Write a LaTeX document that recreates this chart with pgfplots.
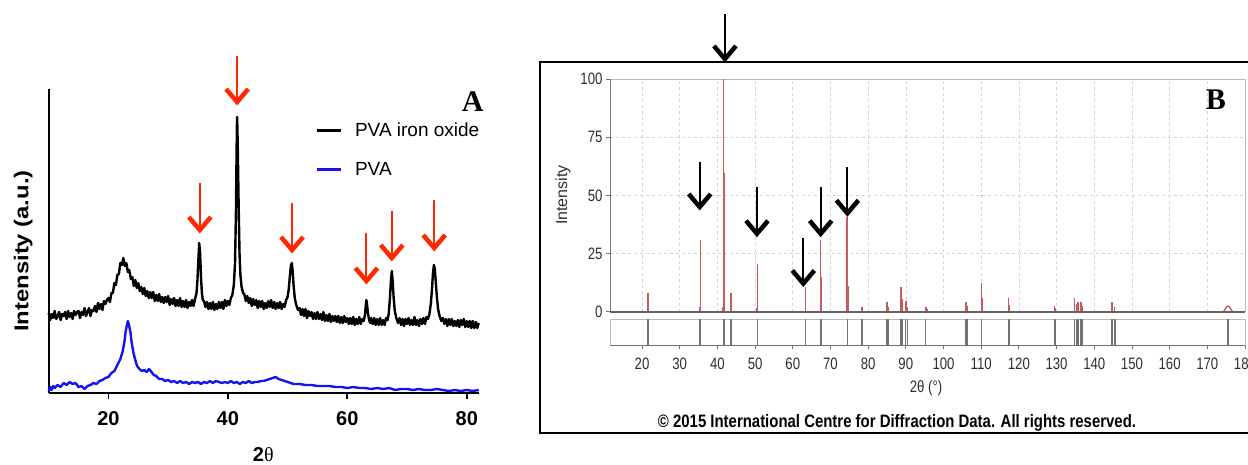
\documentclass[border=0pt]{standalone}
\usepackage{pgfplots}
\usepackage{pgfplotstable}
\pgfplotsset{compat=1.18}
\usepackage{fontspec}
\setmainfont{Liberation Sans}
\newfontfamily\narrow[FakeStretch=0.8]{Liberation Sans}
\newfontfamily\serif{Liberation Serif}
\definecolor{arrowred}{RGB}{255,40,0}
\definecolor{pvablue}{RGB}{20,20,240}
\definecolor{stick}{RGB}{200,90,90}
\definecolor{gridgray}{RGB}{210,210,210}
\definecolor{boxgray}{RGB}{185,185,185}
\definecolor{axgray}{RGB}{115,115,115}
\definecolor{txtgray}{RGB}{45,45,45}

\pgfplotstableread{
x y
10.00 80
10.25 73
10.50 79
10.75 75
11.00 82
11.25 74
11.50 77
11.75 81
12.00 73
12.25 79
12.50 77
12.75 81
13.00 74
13.25 82
13.50 76
13.75 80
14.00 74
14.25 82
14.50 78
14.75 81
15.00 82
15.25 75
15.50 81
15.75 78
16.00 85
16.25 77
16.50 81
16.75 85
17.00 77
17.25 83
17.50 82
17.75 87
18.00 81
18.25 90
18.50 84
18.75 89
19.00 83
19.25 92
19.50 89
19.75 93
20.00 95
20.25 91
20.50 100
20.75 100
21.00 110
21.25 108
21.50 118
21.75 119
22.00 130
22.25 128
22.50 135
22.75 127
23.00 130
23.25 121
23.50 123
23.75 114
24.00 116
24.25 107
24.50 113
24.75 105
25.00 110
25.25 102
25.50 106
25.75 99
26.00 105
26.25 97
26.50 102
26.75 95
27.00 101
27.25 95
27.50 101
27.75 92
28.00 98
28.25 92
28.50 99
28.75 91
29.00 96
29.25 90
29.50 96
29.75 91
30.00 97
30.25 88
30.50 94
30.75 89
31.00 95
31.25 87
31.50 93
31.75 87
32.00 95
32.25 86
32.50 92
32.75 86
33.00 93
33.25 85
33.50 91
33.75 87
34.00 93
34.25 87
34.50 94
34.75 100
34.90 112
35.05 132
35.20 150
35.35 140
35.50 116
35.65 100
35.80 93
36.00 92
36.25 86
36.50 91
36.75 84
37.00 90
37.25 84
37.50 91
37.75 83
38.00 89
38.25 84
38.50 91
38.75 85
39.00 91
39.25 84
39.50 93
39.75 87
40.00 92
40.25 88
40.50 95
40.75 98
41.00 108
41.20 130
41.35 180
41.50 262
41.55 276
41.65 250
41.80 190
41.95 140
42.10 118
42.30 106
42.55 100
42.75 99
43.00 92
43.25 97
43.50 90
43.75 95
44.00 87
44.25 94
44.50 88
44.75 93
45.00 85
45.25 92
45.50 86
45.75 92
46.00 84
46.25 90
46.50 85
46.75 92
47.00 86
47.25 93
47.50 85
47.75 91
48.00 84
48.25 90
48.50 85
48.75 91
49.00 84
49.25 89
49.50 86
49.75 93
50.00 96
50.20 104
50.40 118
50.55 127
50.70 130
50.85 122
51.00 108
51.20 95
51.45 88
51.75 83
52.00 85
52.25 78
52.50 84
52.75 77
53.00 84
53.25 75
53.50 82
53.75 77
54.00 81
54.25 74
54.50 80
54.75 74
55.00 81
55.25 74
55.50 79
55.75 73
56.00 81
56.25 72
56.50 78
56.75 72
57.00 79
57.25 71
57.50 77
57.75 72
58.00 77
58.25 71
58.50 77
58.75 70
59.00 76
59.25 70
59.50 77
59.75 71
60.00 75
60.25 69
60.50 75
60.75 69
61.00 76
61.25 68
61.50 74
61.75 69
62.00 76
62.25 69
62.50 74
62.75 72
62.95 78
63.10 88
63.20 93
63.30 89
63.45 80
63.65 73
63.85 70
64.00 75
64.25 69
64.50 75
64.75 68
65.00 74
65.25 68
65.50 75
65.75 68
66.00 73
66.25 68
66.50 75
66.75 73
66.95 80
67.15 96
67.30 112
67.45 122
67.60 112
67.75 96
67.95 82
68.20 75
68.50 70
68.75 75
69.00 68
69.25 74
69.50 67
69.75 74
70.00 69
70.25 75
70.50 68
70.75 73
71.00 68
71.25 76
71.50 68
71.75 73
72.00 67
72.25 74
72.50 69
72.75 75
73.00 69
73.25 76
73.50 74
73.75 79
74.00 90
74.20 106
74.35 120
74.50 128
74.65 124
74.80 112
75.00 96
75.20 84
75.45 77
75.75 72
76.00 75
76.25 69
76.50 74
76.75 67
77.00 74
77.25 68
77.50 74
77.75 67
78.00 72
78.25 67
78.50 73
78.75 66
79.00 73
79.25 68
79.50 74
79.75 66
80.00 72
80.25 66
80.50 72
80.75 65
81.00 72
81.25 65
81.50 71
81.75 65
82.00 70
}\ironoxide

\pgfplotstableread{
x y
10.0 2
10.25 6
10.5 3
10.75 7
11.0 5
11.5 8
12.0 6
12.5 10
13.0 8
13.5 11
14.0 9
14.5 10
15.0 6
15.5 7
16.0 4
16.5 7
17.0 8
17.5 10
18.0 9
18.5 12
19.0 13
19.5 15
20.0 16
20.5 20
21.0 22
21.5 28
22.0 34
22.4 42
22.7 52
22.9 62
23.1 68
23.25 72
23.45 68
23.7 60
23.9 50
24.2 40
24.5 33
24.8 27
25.2 24
25.6 22
26.0 23
26.4 21
26.8 24
27.2 21
27.6 18
28.0 17
28.5 14
29.0 14
29.5 12
30.0 13
30.5 11
31.0 12
31.5 10
32.0 12
32.5 10
33.0 11
33.5 9
34.0 11
34.5 10
35.0 11
35.5 9
36.0 11
36.5 10
37.0 12
37.5 10
38.0 12
38.5 11
39.0 10
39.5 11
40.0 10
40.5 12
41.0 10
41.5 11
42.0 9
42.5 11
43.0 10
43.5 12
44.0 10
44.5 11
45.0 11
45.5 12
46.0 12
46.5 13
47.0 14
47.5 15
48.0 16
48.5 14
49.0 13
49.5 12
50.0 11
50.5 10
51.0 9
52.0 9
53.0 8
54.0 8
55.0 7
56.0 7
57.0 7
58.0 6
59.0 6
60.0 5
61.0 6
62.0 5
63.0 5
64.0 4
65.0 5
66.0 4
67.0 5
68.0 3
69.0 4
70.0 4
71.0 3
72.0 4
73.0 3
74.0 3
75.0 4
76.0 3
77.0 2
78.0 3
79.0 2
80.0 3
81.0 2
82.0 3
}\pva

\pgfplotstableread{
x y
21.6 7.9
35.3 2
35.5 30.7
41.3 2
41.6 100
41.9 59.5
43.6 7.9
50.5 1.5
50.7 20.5
63.3 10.7
67.4 30.7
67.6 15
74.4 40.8
74.6 11
78.4 2.1
85.0 4
85.3 2
88.7 10.5
89.1 5.3
90.0 4.4
90.4 2
95.3 2.1
95.6 1.3
106.0 4
106.3 2.5
110.1 12.2
110.4 6
117.2 6
117.5 3
129.4 2.4
129.7 1.5
134.8 6
135.3 3.5
135.7 4
136.5 4
136.9 2.5
144.7 4
145.3 2
}\sticks

\pgfplotstableread{
x y
21.6 1
35.4 1
41.6 1
41.9 1
43.6 1
50.7 1
63.3 1
67.4 1
67.6 1
74.5 1
78.4 1
85.0 1
85.3 1
88.7 1
89.1 1
90.0 1
90.4 1
95.3 1
106.0 1
106.3 1
110.1 1
117.2 1
117.5 1
129.4 1
129.7 1
134.8 1
135.3 1
135.7 1
136.5 1
136.9 1
144.7 1
145.5 1
175.5 1
}\refl

\newcommand{\arrA}[3]{%
  \draw[arrowred, line width=2pt] (axis cs:#1,#2) -- (axis cs:#1,#3);
  \draw[arrowred, line width=4.5pt, line join=miter] (axis cs:{#1-1.85},{#3+13}) -- (axis cs:#1,#3) -- (axis cs:{#1+1.85},{#3+13});}
\newcommand{\arrB}[3]{%
  \draw[black, line width=2pt] (axis cs:#1,#2) -- (axis cs:#1,#3);
  \draw[black, line width=4.5pt, line join=miter] (axis cs:{#1-2.92},{#3+5.6}) -- (axis cs:#1,#3) -- (axis cs:{#1+2.92},{#3+5.6});}

\begin{document}
\begin{tikzpicture}[x=1pt,y=1pt]

% ---------------- Panel A ----------------
\begin{axis}[
  at={(48.7pt,71pt)}, anchor=south west, scale only axis,
  width=430pt, height=304pt,
  xmin=10, xmax=82, ymin=0, ymax=304,
  axis x line=bottom, axis y line=left,
  axis line style={-, line width=1.8pt, black},
  x axis line style={-}, y axis line style={-},
  xtick={20,40,60,80}, ytick=\empty,
  tick align=outside, major tick length=6pt,
  tick style={black, line width=1.8pt},
  /pgf/number format/assume math mode=true,
  xticklabel style={font=\fontsize{20}{22}\selectfont\bfseries, yshift=-9pt},
  xlabel={\fontsize{20}{22}\selectfont\bfseries 2{\serif\mdseries θ}},
  xlabel style={at={(rel axis cs:0.499,-0.204)}, anchor=center},
  ylabel={\scalebox{1.19}[1]{\fontsize{20}{22}\selectfont\bfseries Intensity (a.u.)}},
  ylabel style={at={(rel axis cs:-0.0593,0.467)}, anchor=center},
  clip=false,
  legend style={at={(rel axis cs:0.619,0.895)}, anchor=north west,
    draw=none, fill=none, font=\fontsize{19}{22}\selectfont,
    row sep=20pt, column sep=11pt, inner sep=0pt},
  legend cell align=left,
  legend image code/.code={\draw[#1, line width=3pt] (0pt,0pt) -- (24pt,0pt);},
]
\addplot[black, line width=2.4pt, line join=round] table[x=x,y=y] {\ironoxide};
\addlegendentry{PVA iron oxide}
\addplot[pvablue, line width=2.4pt, line join=round] table[x=x,y=y] {\pva};
\addlegendentry{PVA}
\arrA{35.3}{210}{163}
\arrA{41.55}{337}{291}
\arrA{50.75}{190}{143}
\arrA{63.2}{160}{112}
\arrA{67.45}{182}{135}
\arrA{74.55}{193}{145}
\node[font=\serif\fontsize{30}{30}\selectfont\bfseries] at (rel axis cs:0.986,0.957) {A};
\end{axis}

% ---------------- Panel B ----------------
\draw[black, line width=2pt] (540,31) rectangle (1262,402);

\begin{axis}[
  at={(610pt,152.3pt)}, anchor=south west, scale only axis,
  width=635pt, height=232.7pt,
  xmin=11.5, xmax=180, ymin=0, ymax=100,
  axis line style={boxgray, line width=0.8pt},
  xtick={20,30,...,180}, xticklabels={},
  ytick={0,25,50,75,100}, ytick pos=left,
  grid=major, grid style={gridgray, dashed, line width=0.6pt},
  tick align=outside, major tick length=4pt,
  tick style={axgray, line width=0.8pt},
  xtick style={draw=none},
  /pgf/number format/assume math mode=true,
  yticklabel style={font=\narrow\fontsize{16.5}{18}\selectfont, text=txtgray},
  ylabel={Intensity},
  ylabel style={at={(rel axis cs:-0.074,0.5015)}, anchor=center,
    font=\fontsize{16}{18}\selectfont, text=txtgray},
  clip=false,
]
\addplot[ycomb, stick, line width=1.4pt] table[x=x,y=y] {\sticks};
\addplot[stick, line width=1.4pt, smooth] coordinates {(174.3,0) (174.8,1.2) (175.2,2.2) (175.5,2.4) (175.8,2.2) (176.2,1.2) (176.7,0)};
\draw[axgray, line width=1pt] (rel axis cs:0,0) -- (rel axis cs:0,1);
\draw[axgray!85!black, line width=1.8pt] (rel axis cs:0,0) -- (rel axis cs:1,0);
\arrB{35.3}{64.5}{45}
\arrB{42.0}{128}{108.6}
\arrB{50.5}{53.8}{33.5}
\arrB{62.8}{31.8}{12.1}
\arrB{67.4}{53.8}{33.5}
\arrB{74.5}{62}{42.3}
\node[font=\serif\fontsize{30}{30}\selectfont\bfseries] at (rel axis cs:0.954,0.91) {B};
\end{axis}

\begin{axis}[
  at={(610pt,119pt)}, anchor=south west, scale only axis,
  width=635pt, height=26pt,
  xmin=11.5, xmax=180, ymin=0, ymax=1,
  axis line style={boxgray, line width=0.8pt},
  xtick={20,30,...,180}, ytick=\empty, xtick pos=bottom,
  tick align=outside, major tick length=4pt,
  tick style={axgray, line width=0.8pt},
  /pgf/number format/assume math mode=true,
  xticklabel style={font=\narrow\fontsize{16.5}{18}\selectfont, text=txtgray, yshift=-5pt},
  xlabel={2θ (°)},
  xlabel style={at={(rel axis cs:0.4976,-1.654)}, anchor=center,
    font=\narrow\fontsize{16.5}{18}\selectfont, text=txtgray},
  clip=false,
]
\addplot[ycomb, axgray, line width=1.3pt] table[x=x,y=y] {\refl};
\draw[axgray, line width=0.8pt] (rel axis cs:0,0) -- (rel axis cs:1,0);
\end{axis}

\node[font=\fontsize{18}{20}\selectfont\bfseries] at (897,41)
  {\scalebox{0.83}[1]{© 2015 International Centre for Diffraction Data. All rights reserved.}};

\pgfresetboundingbox
\useasboundingbox (0,0) rectangle (1248,464);
\end{tikzpicture}
\end{document}
